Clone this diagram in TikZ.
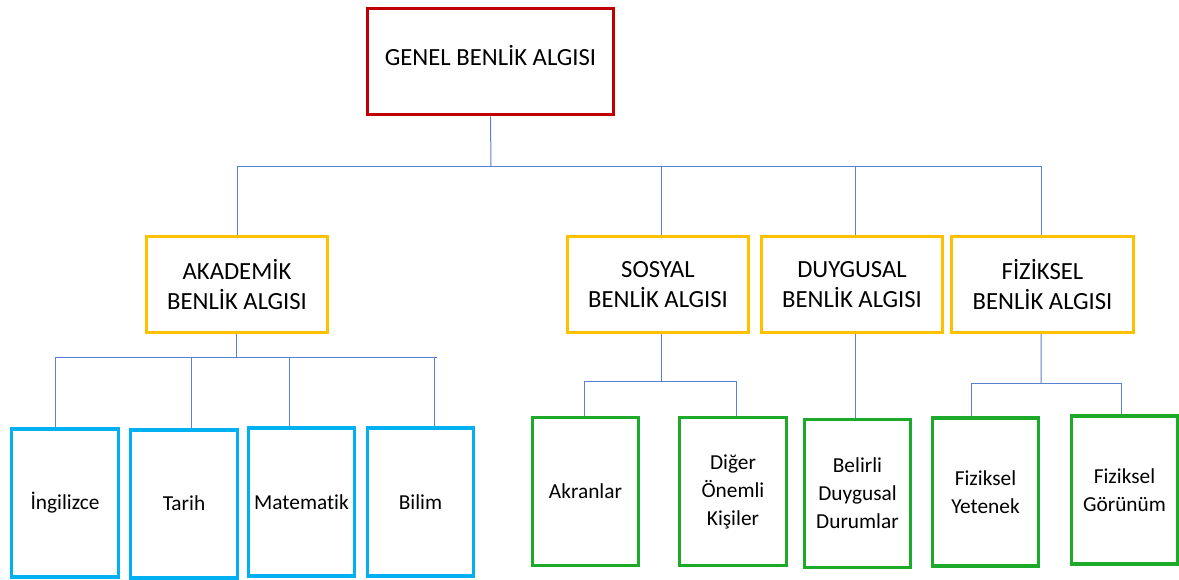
\documentclass[tikz,border=0pt]{standalone}
\usepackage{fontspec}
\setmainfont{Carlito}[Ligatures=NoCommon]
\definecolor{topred}{RGB}{192,0,0}
\definecolor{midgold}{RGB}{255,192,0}
\definecolor{leafblue}{RGB}{0,176,240}
\definecolor{leafgreen}{RGB}{28,170,40}
\definecolor{linkblue}{RGB}{90,128,208}
\tikzset{
  box/.style={draw, line width=2.4pt, fill=white, align=center, inner sep=0pt},
  topbox/.style={box, draw=topred, minimum width=185pt, minimum height=80pt,
    font=\fontsize{18.5}{22.5}\selectfont},
  midbox/.style={box, draw=midgold, minimum width=136pt, minimum height=72pt,
    font=\fontsize{18.5}{22.5}\selectfont},
  leafbox/.style={box, minimum width=80pt, minimum height=111pt,
    font=\fontsize{16}{21}\selectfont},
  bluebox/.style={leafbox, draw=leafblue},
  greenbox/.style={leafbox, draw=leafgreen},
  link/.style={draw=linkblue, line width=0.75pt}
}
\begin{document}
\begin{tikzpicture}[x=0.75pt,y=-0.75pt]
\useasboundingbox (0,0) rectangle (1179,580);

% root
\node[topbox] (gen) at (490.5,61.5) {\raisebox{9pt}{GENEL BENLİK ALGISI}};

% second level
\node[midbox] (akd) at (237,284.5) {AKADEMİK\\BENLİK ALGISI};
\node[midbox] (sos) at (658,284.5) {SOSYAL\\BENLİK ALGISI};
\node[midbox] (duy) at (852,284.5) {DUYGUSAL\\BENLİK ALGISI};
\node[midbox] (fiz) at (1042.5,284.5) {FİZİKSEL\\BENLİK ALGISI};

% leaves
\node[bluebox] (ing) at (65,503) {İngilizce};
\node[bluebox] (tar) at (184,504) {\raisebox{2pt}{Tarih}};
\node[bluebox] (mat) at (301.5,502) {Matematik};
\node[bluebox] (bil) at (420.5,502) {Bilim};
\node[greenbox] (akr) at (585.5,491.5) {Akranlar};
\node[greenbox] (dig) at (733,491.5) {Diğer\\Önemli\\Kişiler};
\node[greenbox] (bel) at (857.5,493.5) {Belirli\\Duygusal\\Durumlar};
\node[greenbox] (fzy) at (985.5,492) {Fiziksel\\Yetenek};
\node[greenbox] (fzg) at (1124.5,490) {Fiziksel\\Görünüm};

% junction points of the tree
\coordinate (j0) at (491,167);
\coordinate (j1) at (236,358);
\coordinate (j1e) at (437,358);
\coordinate (j2) at (661,382);
\coordinate (j3) at (1041,384);

% root to second level
\draw[link] (gen.south) -- (j0);
\draw[link] (j0) -| (akd.north);
\draw[link] (j0) -| ([xshift=2.25pt]sos.north);
\draw[link] (j0) -| ([xshift=2.25pt]duy.north);
\draw[link] (j0) -| ([xshift=-1pt]fiz.north);

% academic branch
\draw[link] ([xshift=-0.75pt]akd.south) -- (j1);
\draw[link] (j1) -| ([xshift=-7.5pt]ing.north);
\draw[link] (j1) -- (j1e);
\draw[link] ([xshift=5.25pt]tar.north) -- ([xshift=5.25pt]tar.north |- j1);
\draw[link] ([xshift=-9pt]mat.north) -- ([xshift=-9pt]mat.north |- j1);
\draw[link] ([xshift=10.5pt]bil.north) -- ([xshift=10.5pt]bil.north |- j1);

% social branch
\draw[link] ([xshift=2.25pt]sos.south) -- (j2);
\draw[link] (j2) -| ([xshift=-1pt]akr.north);
\draw[link] (j2) -| ([xshift=2.25pt]dig.north);

% emotional branch
\draw[link] ([xshift=2.25pt]duy.south) -- ([xshift=2.25pt]duy.south |- bel.north);

% physical branch
\draw[link] ([xshift=-1pt]fiz.south) -- (j3);
\draw[link] (j3) -| ([xshift=-10.5pt]fzy.north);
\draw[link] (j3) -| ([xshift=-2pt]fzg.north);
\end{tikzpicture}
\end{document}
